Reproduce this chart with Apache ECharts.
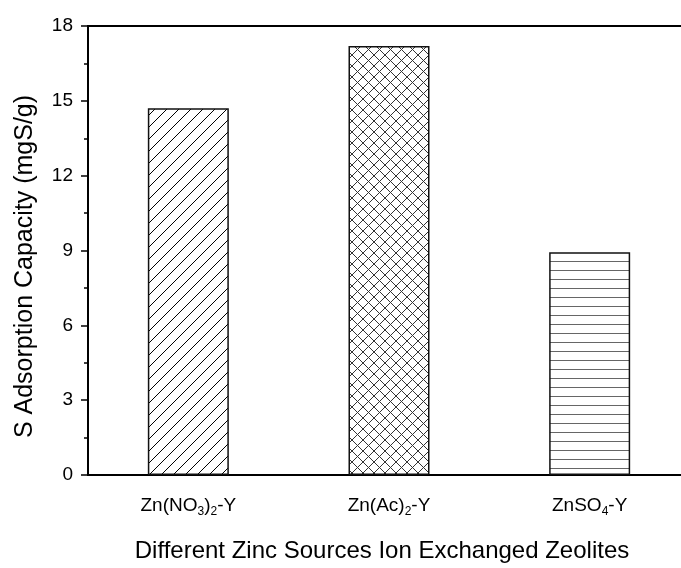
<!DOCTYPE html>
<html>
<head>
<meta charset="utf-8">
<script src="https://cdn.jsdelivr.net/npm/echarts@6/dist/echarts.min.js"></script>
<style>html,body{margin:0;padding:0;background:#fff;}#c{width:681px;height:568px;}</style>
</head>
<body>
<div id="c"></div>
<script>
// ---- data ----
var categories = ['Zn(NO{s|3}){s|2}-Y', 'Zn(Ac){s|2}-Y', 'ZnSO{s|4}-Y'];
var capacity = [14.7, 17.2, 8.93];
var yTicks = [0, 3, 6, 9, 12, 15, 18];

function makePattern(kind) {
  var c = document.createElement('canvas');
  var ctx = c.getContext('2d');
  ctx.strokeStyle = '#444';
  ctx.lineWidth = 1;
  if (kind === 'diag') {
    var s = 12;
    c.width = s; c.height = s;
    ctx.fillStyle = '#fff'; ctx.fillRect(0, 0, s, s);
    ctx.beginPath();
    ctx.moveTo(-1, s + 1); ctx.lineTo(s + 1, -1);
    ctx.moveTo(-1, 1); ctx.lineTo(1, -1);
    ctx.moveTo(s - 1, s + 1); ctx.lineTo(s + 1, s - 1);
    ctx.stroke();
  } else if (kind === 'cross') {
    var s2 = 11;
    c.width = s2; c.height = s2;
    ctx.fillStyle = '#fff'; ctx.fillRect(0, 0, s2, s2);
    ctx.strokeStyle = '#333';
    ctx.beginPath();
    ctx.moveTo(-1, s2 + 1); ctx.lineTo(s2 + 1, -1);
    ctx.moveTo(-1, -1); ctx.lineTo(s2 + 1, s2 + 1);
    ctx.stroke();
  } else {
    var h = 9;
    c.width = 10; c.height = h;
    ctx.fillStyle = '#fff'; ctx.fillRect(0, 0, 10, h);
    ctx.strokeStyle = '#666';
    ctx.beginPath();
    ctx.moveTo(0, 0.5); ctx.lineTo(10, 0.5);
    ctx.stroke();
  }
  return { image: c, repeat: 'repeat' };
}
var patterns = [makePattern('diag'), makePattern('cross'), makePattern('horiz')];

var chart = echarts.init(document.getElementById('c'));
var font = 'Liberation Sans, Arial, sans-serif';
chart.setOption({
  animation: false,
  backgroundColor: '#fff',
  grid: { left: 88, top: 26, width: 602, bottom: 93, containLabel: false, outerBoundsMode: 'none',
    show: true, borderColor: '#000', borderWidth: 2, backgroundColor: 'transparent' },
  xAxis: {
    type: 'category',
    data: categories,
    name: 'Different Zinc Sources Ion Exchanged Zeolites',
    nameLocation: 'middle',
    nameGap: 64,
    nameTextStyle: { fontFamily: font, fontSize: 24, color: '#000', padding: [0, 14, 0, 0] },
    axisLine: { lineStyle: { color: '#000', width: 2 } },
    axisTick: { show: false },
    axisLabel: {
      interval: 0,
      margin: 19,
      lineHeight: 24,
      fontFamily: font, fontSize: 19, color: '#000',
      rich: { s: { fontFamily: font, fontSize: 12, verticalAlign: 'bottom', lineHeight: 4 } }
    }
  },
  yAxis: {
    type: 'value',
    min: 0, max: 18, interval: 3,
    name: 'S Adsorption Capacity (mgS/g)',
    nameLocation: 'middle',
    nameGap: 50,
    nameTextStyle: { fontFamily: font, fontSize: 25, color: '#000', padding: [0, 32, 0, 0] },
    axisLine: { show: true, lineStyle: { color: '#000', width: 2 } },
    axisTick: { show: true, inside: false, length: 7, lineStyle: { color: '#000', width: 1.5 } },
    minorTick: { show: true, splitNumber: 2, length: 4, lineStyle: { color: '#000', width: 1.5 } },
    splitLine: { show: false },
    axisLabel: { margin: 15, fontFamily: font, fontSize: 19, color: '#000',
      formatter: function (v) { return yTicks.indexOf(v) >= 0 ? String(v) : ''; } }
  },
  series: [{
    type: 'bar',
    barWidth: 81,
    data: capacity.map(function (v, i) {
      return { value: v, itemStyle: { color: patterns[i], borderColor: '#111', borderWidth: 1.5 } };
    })
  }]
});
</script>
</body>
</html>
